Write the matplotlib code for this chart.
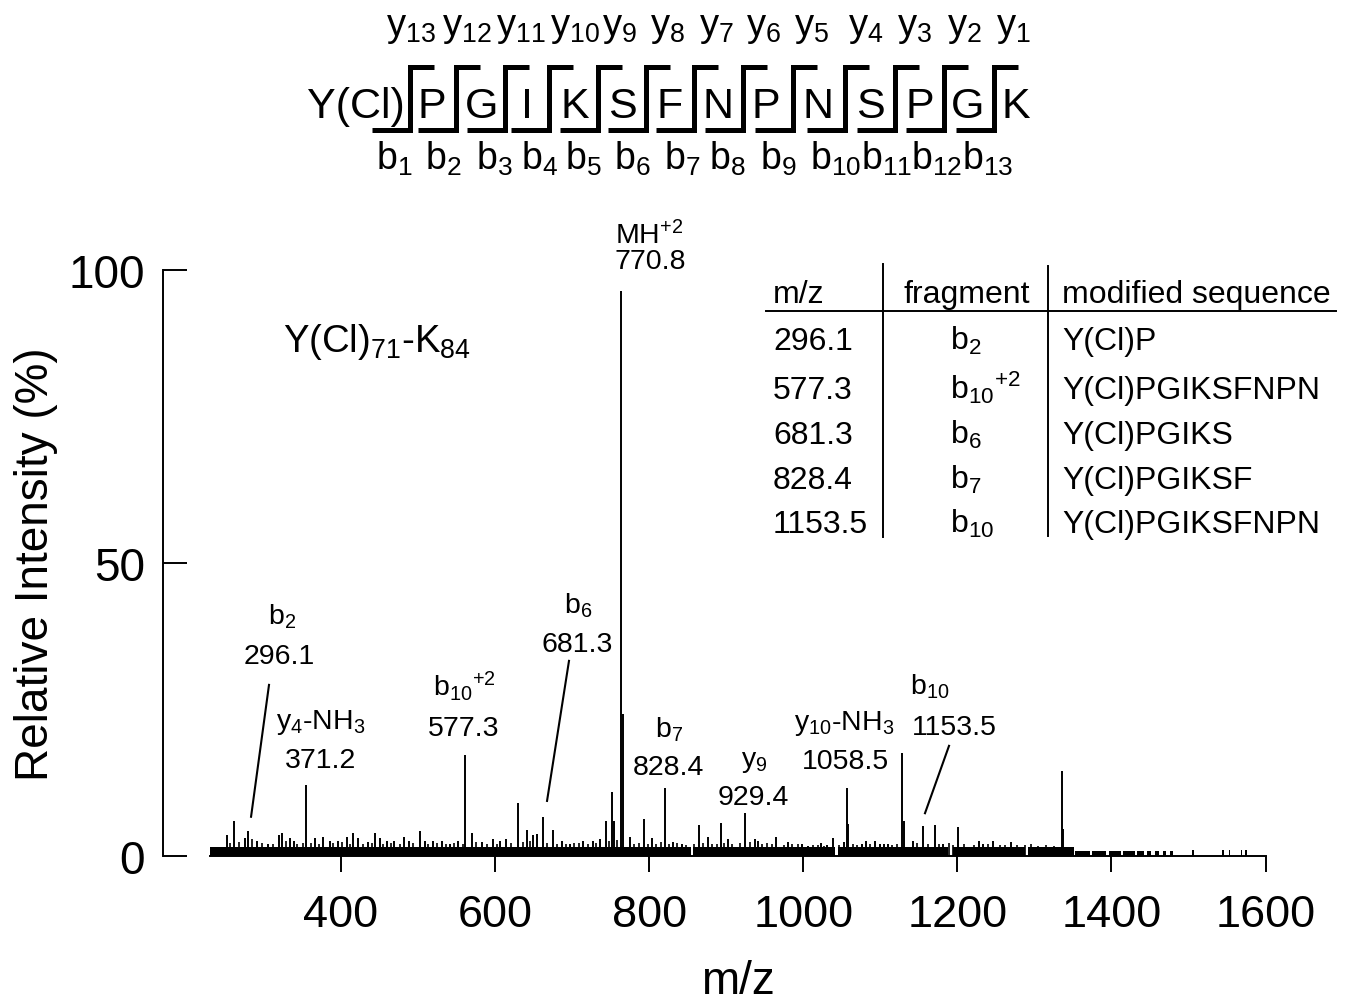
import matplotlib
matplotlib.use('Agg')
import matplotlib.pyplot as plt
import numpy as np

plt.rcParams['font.family'] = ['Liberation Sans', 'DejaVu Sans']
plt.rcParams['mathtext.default'] = 'regular'

# ---------------- data ----------------
peak_mz = [251.6, 261.5, 275.4, 279.7, 290.6, 304.9, 319.5, 323.8, 333.8, 339.4,
           355.0, 366.3, 377.0, 385.7, 396.5, 407.4, 415.2, 422.5, 435.4, 444.1,
           450.6, 459.3, 469.2, 482.2, 488.3, 502.5, 509.0, 519.8, 530.7, 541.5,
           552.3, 561.0, 569.7, 582.6, 597.7, 606.4, 614.2, 630.1, 641.8, 649.6,
           654.0, 661.8, 674.8, 686.5, 697.2, 714.5, 727.5, 736.2, 744.0, 751.4,
           754.4, 762.8, 766.0, 775.1, 793.7, 803.3, 820.6, 831.3, 842.2, 865.1,
           876.8, 892.9, 902.7, 925.0, 937.4, 941.7, 964.6, 980.6, 998.0, 1006.6,
           1023.0, 1030.4, 1039.0, 1053.3, 1056.4, 1058.1, 1075.9, 1081.1, 1093.1, 1099.6,
           1104.8, 1110.0, 1127.8, 1130.8, 1136.0, 1142.9, 1155.8, 1171.0, 1181.8, 1200.5,
           1216.4, 1228.1, 1233.7, 1246.7, 1269.7, 1335.5, 1337.5]
peak_int = [3.6, 6.0, 3.1, 4.3, 2.6, 2.0, 3.5, 4.0, 3.1, 2.6,
            12.1, 3.1, 3.2, 2.6, 2.6, 3.3, 4.0, 3.1, 2.4, 4.0,
            3.1, 2.6, 2.6, 3.2, 2.5, 4.3, 2.6, 2.6, 2.6, 2.0,
            2.5, 17.2, 4.0, 2.4, 2.9, 2.6, 2.9, 9.0, 4.5, 3.6,
            3.8, 6.6, 4.5, 2.6, 2.0, 2.6, 2.6, 2.9, 6.0, 11.0,
            6.0, 96.4, 24.2, 3.3, 6.3, 3.0, 11.6, 2.4, 2.0, 5.3,
            3.3, 5.6, 2.9, 7.3, 2.9, 2.6, 3.2, 2.4, 2.0, 1.7,
            2.2, 1.9, 3.0, 2.4, 11.6, 5.5, 2.0, 2.6, 2.6, 2.0,
            2.0, 2.0, 17.6, 6.0, 1.5, 2.6, 5.1, 5.3, 2.0, 4.9,
            1.5, 2.6, 2.0, 2.6, 2.4, 14.5, 4.6]

small_mz = [256, 268, 284, 297, 312, 328, 343, 350, 361, 371, 390, 401, 412, 428, 440,
            455, 465, 476, 493, 513, 525, 536, 547, 558, 575, 589, 603, 620, 636, 645,
            668, 680, 692, 703, 709, 720, 731, 748, 758, 780, 787, 798, 809, 815, 826,
            836, 848, 858, 870, 882, 888, 897, 908, 918, 931, 947, 953, 960, 975, 986,
            993, 1013, 1019, 1027, 1046, 1065, 1070, 1087, 1115, 1122, 1147, 1162, 1176, 1189, 1195,
            1208, 1222, 1240, 1255, 1262, 1278, 1288, 1296, 1305, 1315, 1326, 1343, 1348]
small_int = [2.2, 2.4, 2.9, 2.3, 2.1, 2.5, 2.0, 2.3, 2.2, 2.0, 2.2, 2.4, 2.1, 2.0, 2.3,
             2.1, 2.2, 2.0, 2.2, 2.0, 2.3, 2.1, 2.2, 2.0, 2.4, 2.1, 2.0, 2.2, 2.4, 2.6,
             2.2, 2.0, 2.1, 2.3, 2.2, 2.1, 2.3, 2.5, 2.7, 2.1, 2.3, 2.0, 2.1, 2.4, 2.0,
             2.2, 1.9, 2.1, 2.3, 2.0, 2.1, 2.2, 2.0, 2.3, 2.4, 2.1, 2.2, 2.0, 1.9, 2.1,
             2.0, 1.8, 1.9, 1.7, 1.8, 2.0, 1.8, 2.1, 1.9, 2.0, 2.2, 2.1, 2.0, 2.2, 1.9,
             2.0, 1.8, 2.1, 1.9, 1.8, 1.9, 1.8, 2.0, 1.7, 1.8, 1.7, 1.6, 1.5]

floor_start = [230, 856.5, 1045, 1194, 1292, 1353, 1375, 1397, 1415, 1433, 1446, 1456,
               1467, 1476, 1505, 1544, 1552, 1568, 1574]
floor_end = [854, 1041, 1188, 1288, 1352, 1372, 1393, 1412, 1430, 1442, 1452, 1462,
             1471, 1480, 1507.5, 1546, 1554, 1570, 1576]
floor_height = [1.5, 1.5, 1.5, 1.5, 1.5, 0.9, 0.9, 0.9, 0.9, 0.9, 0.9, 0.9,
                0.9, 0.9, 1.0, 1.0, 1.0, 1.0, 1.0]

ion_labels = ['MH$^{+2}$', 'b$_2$', 'y$_4$-NH$_3$', 'b$_{10}{}^{+2}$', 'b$_6$',
              'b$_7$', 'y$_9$', 'y$_{10}$-NH$_3$', 'b$_{10}$']
ion_values = ['770.8', '296.1', '371.2', '577.3', '681.3',
              '828.4', '929.4', '1058.5', '1153.5']

table_header = ['m/z', 'fragment', 'modified sequence']
table_mz = ['296.1', '577.3', '681.3', '828.4', '1153.5']
table_frag = ['b$_2$', 'b$_{10}{}^{+2}$', 'b$_6$', 'b$_7$', 'b$_{10}$']
table_seq = ['Y(Cl)P', 'Y(Cl)PGIKSFNPN', 'Y(Cl)PGIKS', 'Y(Cl)PGIKSF', 'Y(Cl)PGIKSFNPN']

n_term = 'Y(Cl)'
residues = ['P', 'G', 'I', 'K', 'S', 'F', 'N', 'P', 'N', 'S', 'P', 'G', 'K']
y_ions = ['y$_{%d}$' % i for i in range(13, 0, -1)]
b_ions = ['b$_{%d}$' % i for i in range(1, 14)]

peptide_label = 'Y(Cl)$_{71}$-K$_{84}$'

# ---------------- layout (positions/styles) ----------------
W, H = 1348, 1003
ion_pos = [(799.8, 106.1), (322.8, 41.0), (374.0, 23.0), (560.3, 29.2), (708.3, 42.9),
           (825.7, 21.7), (936.1, 16.2), (1053.5, 22.7), (1163.9, 29.1)]
val_pos = [(801.1, 101.5), (319.5, 34.1), (374.0, 16.4), (559.0, 21.8), (707.0, 36.2),
           (825.1, 15.2), (934.8, 10.1), (1054.8, 16.2), (1196.3, 22.0)]
leaders = [((306.5, 29.2), (283.2, 6.7)),
           ((695.9, 33.3), (667.4, 9.4)),
           ((1189.2, 18.8), (1158.0, 7.3))]

fig = plt.figure(figsize=(W / 100, H / 100), dpi=100)
ax = fig.add_axes([163 / W, (H - 857) / H, (1265.5 - 163) / W, 586 / H])
ax.set_xlim(168.9, 1600)
ax.set_ylim(0, 100)
ax.patch.set_visible(False)

ax.bar(floor_start, floor_height, width=np.subtract(floor_end, floor_start),
       align='edge', color='black', linewidth=0)
ax.vlines(small_mz, 0, small_int, color='black', linewidth=1.2)
ax.vlines(peak_mz, 0, peak_int, color='black', linewidth=1.4)

for s in ['top', 'right']:
    ax.spines[s].set_visible(False)
ax.spines['bottom'].set_bounds(230, 1600)
ax.spines['left'].set_bounds(0, 100)
ax.spines['bottom'].set_linewidth(1.4)
ax.spines['left'].set_linewidth(1.4)

ax.set_xticks([400, 600, 800, 1000, 1200, 1400, 1600])
ax.set_yticks([0, 50, 100])
ax.tick_params(axis='x', direction='out', length=11.5, width=1.4, pad=16, labelsize=32.5)
ax.tick_params(axis='y', direction='in', length=17, width=1.4, pad=13, labelsize=33)

ax.set_xlabel('m/z', fontsize=33)
ax.xaxis.set_label_coords(0.5215, -0.213)
ax.xaxis.label.set_va('center')
ax.set_ylabel('Relative Intensity (%)', fontsize=33)
ax.yaxis.set_label_coords(-0.115, 0.5)
ax.yaxis.label.set_va('center')

for lab, val, p1, p2 in zip(ion_labels, ion_values, ion_pos, val_pos):
    ax.text(p1[0], p1[1], lab, ha='center', va='center', fontsize=20.5, clip_on=False)
    ax.text(p2[0], p2[1], val, ha='center', va='center', fontsize=20.5, clip_on=False)
for (a, b) in leaders:
    ax.plot([a[0], b[0]], [a[1], b[1]], color='black', linewidth=1.5, clip_on=False)

ax.text(324.7, 87.9, peptide_label, ha='left', va='center', fontsize=27.5)

# ---------------- overlay: peptide diagram + table ----------------
ov = fig.add_axes([0, 0, 1, 1])
ov.set_xlim(0, W)
ov.set_ylim(H, 0)
ov.axis('off')
ov.patch.set_visible(False)

res_x = [432, 482, 527, 575, 622, 670, 718, 766, 818, 870, 920, 968, 1016]
cut_x = [410, 456, 505, 549, 598, 646, 694, 743, 793, 845, 895, 944, 994]
y_lab_x = [411, 467, 521, 575, 620, 668, 716, 764, 812, 866, 915, 964, 1013]
b_lab_x = [394, 443, 494, 540, 583, 632, 682, 727, 778, 836, 887, 937, 988]
top_y, bot_y = 68, 131

ov.text(405, 118, n_term, ha='right', va='baseline', fontsize=31)
for r, x in zip(residues, res_x):
    ov.text(x, 118, r, ha='center', va='baseline', fontsize=31)
for v in cut_x:
    ov.plot([v - 38, v, v, v + 24], [bot_y, bot_y, top_y, top_y], color='black',
            linewidth=3.6, solid_joinstyle='miter', solid_capstyle='butt')
for t, x in zip(y_ions, y_lab_x):
    ov.text(x, 36, t, ha='center', va='baseline', fontsize=27.5)
for t, x in zip(b_ions, b_lab_x):
    ov.text(x, 170, t, ha='center', va='baseline', fontsize=27)

tfs = 23
ov.text(773, 303, table_header[0], ha='left', va='baseline', fontsize=tfs)
ov.text(967, 303, table_header[1], ha='center', va='baseline', fontsize=tfs)
ov.text(1062, 303, table_header[2], ha='left', va='baseline', fontsize=tfs)
ov.plot([766, 1336], [312, 312], color='black', linewidth=1.4)
ov.plot([883, 883], [265, 538], color='black', linewidth=1.4)
ov.plot([1048, 1048], [267, 537], color='black', linewidth=1.4)
row_base = [350, 399, 444, 489, 533]
for yb, m, f, s in zip(row_base, table_mz, table_frag, table_seq):
    ov.text(773, yb, m, ha='left', va='baseline', fontsize=tfs)
    ov.text(950, yb, f, ha='left', va='baseline', fontsize=tfs)
    ov.text(1062, yb, s, ha='left', va='baseline', fontsize=tfs)

fig.savefig('out.png', dpi=100)
